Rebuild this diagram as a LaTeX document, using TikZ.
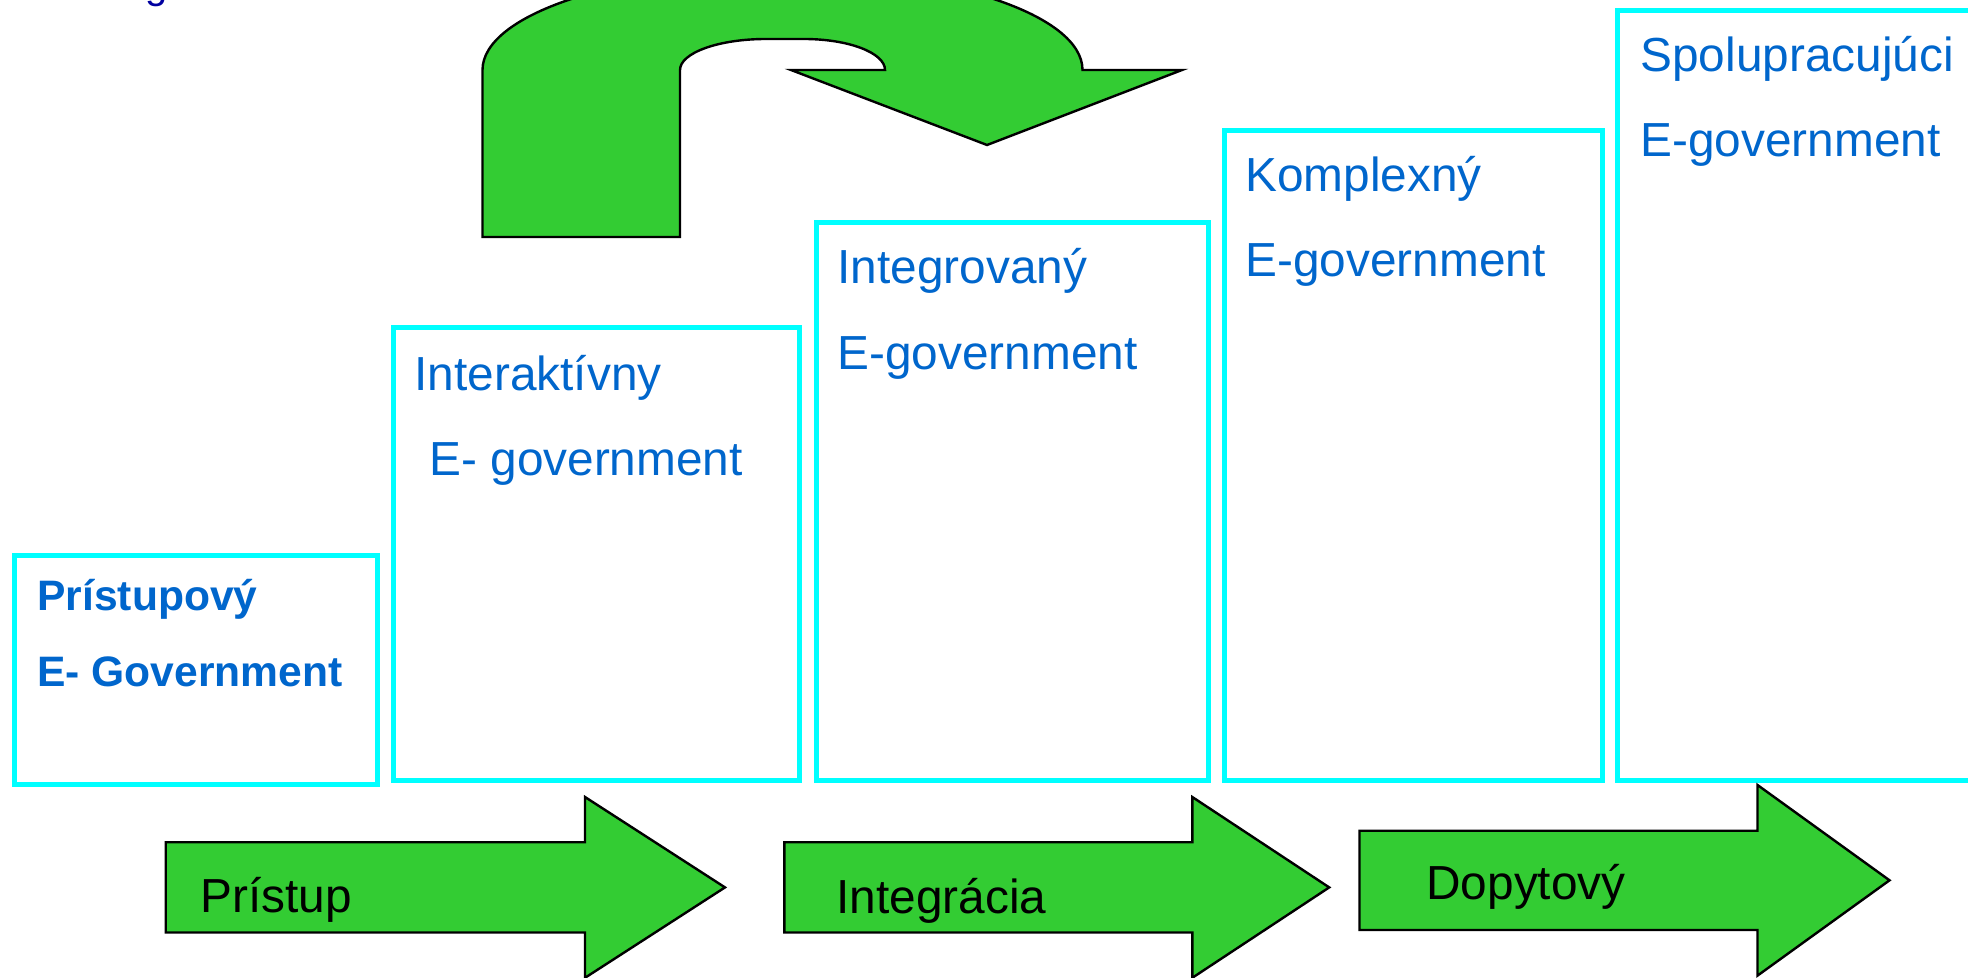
\documentclass[tikz,border=0pt]{standalone}
\usepackage{fontspec}
\setmainfont{Liberation Sans}
\definecolor{stagecyan}{RGB}{0,255,255}
\definecolor{stageblue}{RGB}{0,102,204}
\definecolor{arrowgreen}{RGB}{51,204,51}
\definecolor{titleblue}{RGB}{0,0,160}
\tikzstyle{cyanbox}=[draw=stagecyan,line width=2.5pt]
\tikzstyle{greenarrow}=[fill=arrowgreen,draw=black,line width=1.2pt]
\tikzstyle{stagelabel}=[anchor=base west,inner sep=0pt,text=stageblue,font=\fontsize{23.9}{28}\selectfont]
\tikzstyle{stagebold}=[stagelabel,font=\fontsize{21.3}{25}\selectfont\bfseries]
\tikzstyle{arrowlabel}=[anchor=base west,inner sep=0pt,font=\fontsize{23.9}{28}\selectfont]

\begin{document}
\begin{tikzpicture}[x=0.5pt,y=-0.5pt]
    \useasboundingbox (0,0) rectangle (1968,978);

    % cut title, only its last letter shows
    \node[anchor=base west,inner sep=0pt,text=titleblue,font=\fontsize{20}{24}\selectfont] (title) at (145,-1.5) {g};

    % Boxes
    \draw[cyanbox] (14.5,555) rectangle (377,784.5);
    \draw[cyanbox] (393,328) rectangle (799.5,780.5);
    \draw[cyanbox] (816,222.5) rectangle (1208.5,780.5);
    \draw[cyanbox] (1224,130.5) rectangle (1602,780.5);
    \draw[cyanbox] (1617,10.5) rectangle (2000,780.5);

    % Box texts
    \node[stagebold] (acc1) at (37,610) {Prístupový};
    \node[stagebold] (acc2) at (37,686.5) {E- Government};
    \node[stagelabel] (inter1) at (414,390) {Interaktívny};
    \node[stagelabel] (inter2) at (429,475.5) {E- government};
    \node[stagelabel] (integ1) at (837,284) {Integrovaný};
    \node[stagelabel] (integ2) at (837,369) {E-government};
    \node[stagelabel] (compl1) at (1245,192) {Komplexný};
    \node[stagelabel] (compl2) at (1245,277) {E-government};
    \node[stagelabel] (coop1) at (1640,71.5) {Spolupracujúci};
    \node[stagelabel] (coop2) at (1640,156.5) {E-government};

    % U-turn arrow
    \draw[greenarrow] (482.5,237) -- (482.5,70)
        .. controls (482.5,14.8) and (616.8,-30) .. (782.5,-30)
        .. controls (948.2,-30) and (1082.5,14.8) .. (1082.5,70)
        -- (1182,70) -- (987,145) -- (791,70) -- (885,70)
        .. controls (885,52.9) and (848.7,39) .. (804,39)
        -- (766,39)
        .. controls (718.5,39) and (680,52.9) .. (680,70)
        -- (680,237) -- cycle;

    % Bottom arrows
    \draw[greenarrow] (165.7,842.2) -- (585,842.2) -- (585,797) -- (725,887.4)
        -- (585,977.8) -- (585,932.5) -- (165.7,932.5) -- cycle;
    \draw[greenarrow] (784.4,842.2) -- (1192.3,842.2) -- (1192.3,797) -- (1329.2,887.4)
        -- (1192.3,977.8) -- (1192.3,932.5) -- (784.4,932.5) -- cycle;
    \draw[greenarrow] (1359.5,830.7) -- (1757.5,830.7) -- (1757.5,785) -- (1889.5,880.3)
        -- (1757.5,975.6) -- (1757.5,930) -- (1359.5,930) -- cycle;

    \node[arrowlabel] (access) at (200,912.5) {Prístup};
    \node[arrowlabel] (integr) at (836,913.5) {Integrácia};
    \node[arrowlabel] (demand) at (1426,899) {Dopytový};
\end{tikzpicture}
\end{document}
